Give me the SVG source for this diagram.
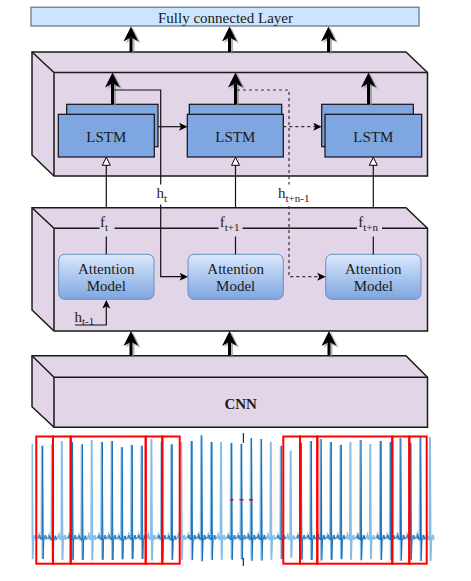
<svg xmlns="http://www.w3.org/2000/svg" xmlns:xlink="http://www.w3.org/1999/xlink" width="471" height="581" viewBox="0 0 471 581">
<style>
text{font-family:"Liberation Serif","Times New Roman",serif;fill:#1a1a1a}
.t15{font-size:15px}
.sub{font-size:11px}
.cube{fill:#e1d5e7;stroke:#1a1a1a;stroke-width:1.5;stroke-linejoin:miter}
.edge{fill:none;stroke:#1a1a1a;stroke-width:1.5}
.lstm{fill:#7ea6e0;stroke:#111;stroke-width:1.2}
.att{fill:url(#attGrad);stroke:#6c8ebf;stroke-width:1}
.thick{fill:none;stroke:#000;stroke-width:3}
.thin{fill:none;stroke:#111;stroke-width:1.2}
.dash{stroke:#333;stroke-dasharray:3 3}
.el{fill:none;stroke:#6aaee0;stroke-width:2;opacity:.8}
.ed{fill:none;stroke:#1a6fb5;stroke-width:1}
.win{fill:none;stroke:#ff0000;stroke-width:2}
</style>
<defs>
<linearGradient id="attGrad" x1="0" y1="0" x2="0" y2="1">
<stop offset="0" stop-color="#dae8fc"/>
<stop offset="1" stop-color="#7ea6e0"/>
</linearGradient>
<filter id="sh" x="-100%" y="-20%" width="300%" height="150%">
<feDropShadow dx="2" dy="1.5" stdDeviation="0.6" flood-color="#808080" flood-opacity="0.6"/>
</filter>
<marker id="mThick" markerUnits="userSpaceOnUse" viewBox="0 0 16 16" markerWidth="16" markerHeight="16" refX="4" refY="8" orient="auto">
<path d="M0,0.5 L15,8 L0,15.5 L4,8 Z" fill="#000"/>
</marker>
<marker id="mThin" markerUnits="userSpaceOnUse" viewBox="0 0 9 9" markerWidth="9" markerHeight="9" refX="2" refY="4.5" orient="auto">
<path d="M0,0.5 L8.5,4.5 L0,8.5 L2,4.5 Z" fill="#000"/>
</marker>
<marker id="mOpen" markerUnits="userSpaceOnUse" viewBox="-1 -1 10 10" markerWidth="10" markerHeight="10" refX="0" refY="4" orient="auto">
<path d="M0,0 L8,4 L0,8 Z" fill="#fff" stroke="#000" stroke-width="1"/>
</marker>
<path id="bp" d="M-5,0 L-3.6,-0.8 L-2.9,-3 L-2.1,0.6 L-1,0 L-0.4,2 L0,-97 L0.6,22 L1.2,1.5 L2.2,0 L3,-2.8 L3.8,0.8 L5,0"/>
<g id="bA"><use href="#bp" class="el"/><use href="#bp" class="ed" x="0.7"/></g>
<g id="bL"><use href="#bp" class="el"/></g>
<clipPath id="ecgClip"><rect x="31.5" y="428" width="403" height="142"/></clipPath>
</defs>

<g id="fc">
<rect x="31" y="7.3" width="388" height="18.7" fill="#cce5ff" stroke="#7b8896" stroke-width="1.5"/>
<text class="t15" x="225.5" y="22.5" text-anchor="middle">Fully connected Layer</text>
</g>

<g id="lstm-block">
<path class="cube" d="M32,52 L406,52 L427.5,72.5 L427.5,176 L54,176 L32,155 Z"/>
<path class="edge" d="M32,52 L54,72.5 L427.5,72.5 M54,72.5 L54,176"/>
</g>

<g id="attention-block">
<path class="cube" d="M32,207.7 L406,207.7 L427.5,228.3 L427.5,331 L54,331 L32,310 Z"/>
<path class="edge" d="M32,207.7 L54,228.3 L427.5,228.3 M54,228.3 L54,331"/>
</g>

<g id="cnn">
<path class="cube" d="M32,355.7 L406,355.7 L427.5,377.3 L427.5,427.3 L54,427.3 L32,406.7 Z"/>
<path class="edge" d="M32,355.7 L54,377.3 L427.5,377.3 M54,377.3 L54,427.3"/>
<text class="t15" x="240.7" y="409" text-anchor="middle" font-weight="bold">CNN</text>
</g>

<g id="lstm1">
<rect class="lstm" x="66.7" y="104.3" width="91.3" height="42.4"/>
<rect class="lstm" x="58.3" y="114.3" width="96" height="42.7"/>
<text class="t15" x="106.3" y="141.7" text-anchor="middle">LSTM</text>
</g>
<g id="lstm2">
<rect class="lstm" x="189.3" y="104.3" width="92.4" height="42.4"/>
<rect class="lstm" x="187.3" y="114.3" width="96" height="42.7"/>
<text class="t15" x="235.3" y="141.7" text-anchor="middle">LSTM</text>
</g>
<g id="lstm3">
<rect class="lstm" x="321.7" y="104.3" width="91.6" height="42.4"/>
<rect class="lstm" x="325" y="114.3" width="96.7" height="42.7"/>
<text class="t15" x="373.3" y="141.7" text-anchor="middle">LSTM</text>
</g>

<g id="att1">
<rect class="att" x="58.7" y="254.3" width="95.3" height="45" rx="6"/>
<text class="t15" x="106.3" y="274" text-anchor="middle">Attention</text>
<text class="t15" x="106.3" y="290.7" text-anchor="middle">Model</text>
</g>
<g id="att2">
<rect class="att" x="188" y="254.3" width="95.3" height="45" rx="6"/>
<text class="t15" x="235.7" y="274" text-anchor="middle">Attention</text>
<text class="t15" x="235.7" y="290.7" text-anchor="middle">Model</text>
</g>
<g id="att3">
<rect class="att" x="325.7" y="254.3" width="95.3" height="45" rx="6"/>
<text class="t15" x="373.3" y="274" text-anchor="middle">Attention</text>
<text class="t15" x="373.3" y="290.7" text-anchor="middle">Model</text>
</g>

<g id="connectors">
<g filter="url(#sh)">
<path class="thick" d="M131,52 V37.5" marker-end="url(#mThick)"/>
<path class="thick" d="M229.5,52 V37.5" marker-end="url(#mThick)"/>
<path class="thick" d="M328.5,52 V37.5" marker-end="url(#mThick)"/>
<path class="thick" d="M112.5,104.3 V83.5" marker-end="url(#mThick)"/>
<path class="thick" d="M235.5,104.3 V83.5" marker-end="url(#mThick)"/>
<path class="thick" d="M368.5,104.3 V83.5" marker-end="url(#mThick)"/>
<path class="thick" d="M131,355.7 V342" marker-end="url(#mThick)"/>
<path class="thick" d="M229.5,355.7 V342" marker-end="url(#mThick)"/>
<path class="thick" d="M329,355.7 V342" marker-end="url(#mThick)"/>
</g>
<path class="thin" d="M114,90 H160.7 V276.7 H181.5" marker-end="url(#mThin)"/>
<path class="thin" d="M158.3,126.7 H181" marker-end="url(#mThin)"/>
<path class="thin dash" d="M283.3,126.7 H315.2" marker-end="url(#mThin)"/>
<path class="thin dash" d="M237,90 H289 V276.7 H319.2" marker-end="url(#mThin)"/>
<path class="thin" d="M75,325 H106.3 V306.5" marker-end="url(#mThin)"/>
<path class="thin" d="M106.3,254.3 V236.5"/>
<path class="thin" d="M106.3,207.7 V165.3" marker-end="url(#mOpen)"/>
<path class="thin" d="M235.5,254.3 V236.5"/>
<path class="thin" d="M235.5,207.7 V165.3" marker-end="url(#mOpen)"/>
<path class="thin" d="M373.3,254.3 V236.5"/>
<path class="thin" d="M373.3,207.7 V165.3" marker-end="url(#mOpen)"/>
</g>

<g id="labels">
<rect x="99.5" y="214" width="15" height="18" fill="#e1d5e7"/>
<text class="t15" x="100" y="227">f<tspan class="sub" dy="3.5">t</tspan></text>
<rect x="218.5" y="214" width="24" height="18" fill="#e1d5e7"/>
<text class="t15" x="219.7" y="227">f<tspan class="sub" dy="3.5">t+1</tspan></text>
<rect x="357" y="214" width="25" height="18" fill="#e1d5e7"/>
<text class="t15" x="358.3" y="227">f<tspan class="sub" dy="3.5">t+n</tspan></text>
<rect x="155" y="184.5" width="15" height="20" fill="#fff"/>
<text class="t15" x="156.5" y="198">h<tspan class="sub" dy="3.5">t</tspan></text>
<rect x="277" y="184.5" width="35" height="20" fill="#fff"/>
<text class="t15" x="278" y="198">h<tspan class="sub" dy="3.5">t+n-1</tspan></text>
<text class="t15" x="74.5" y="321.5">h<tspan class="sub" dy="3.5">t-1</tspan></text>
</g>

<g id="ecg">
<g clip-path="url(#ecgClip)">
<use href="#bL" transform="translate(32,538) scale(1,0.97)"/>
<use href="#bA" transform="translate(41.95,538) scale(1,0.95)"/>
<use href="#bA" transform="translate(51.9,538.5) scale(1,0.98)"/>
<use href="#bL" transform="translate(61.85,538) scale(1,1.0)"/>
<use href="#bA" transform="translate(71.8,538) scale(1,0.99)"/>
<use href="#bA" transform="translate(81.75,538.5) scale(1,0.97)"/>
<use href="#bL" transform="translate(91.7,538) scale(1,1.01)"/>
<use href="#bA" transform="translate(101.65,538) scale(1,0.99)"/>
<use href="#bA" transform="translate(111.6,538) scale(1,1.0)"/>
<use href="#bA" transform="translate(121.55,538.5) scale(1,0.94)"/>
<use href="#bA" transform="translate(131.5,538) scale(1,0.96)"/>
<use href="#bA" transform="translate(141.45,538) scale(1,0.95)"/>
<use href="#bL" transform="translate(151.4,538) scale(1,1.02)"/>
<use href="#bA" transform="translate(161.35,538) scale(1,0.99)"/>
<use href="#bA" transform="translate(171.3,538.5) scale(1,0.97)"/>
<use href="#bL" transform="translate(181.25,538) scale(1,0.99)"/>
<use href="#bA" transform="translate(191.2,538) scale(1,1.0)"/>
<use href="#bA" transform="translate(201.15,538) scale(1,1.06)"/>
<use href="#bA" transform="translate(211.1,538) scale(1,0.99)"/>
<use href="#bL" transform="translate(221.05,538) scale(1,0.99)"/>
<use href="#bA" transform="translate(231,538) scale(1,0.98)"/>
<use href="#bA" transform="translate(240.95,538) scale(1,0.97)"/>
<use href="#bA" transform="translate(250.9,538) scale(1,1.03)"/>
<use href="#bA" transform="translate(260.85,538) scale(1,1.02)"/>
<use href="#bL" transform="translate(270.8,538) scale(1,0.99)"/>
<use href="#bA" transform="translate(280.75,538) scale(1,0.95)"/>
<use href="#bL" transform="translate(290.7,538) scale(1,0.9)"/>
<use href="#bA" transform="translate(300.65,538) scale(1,0.98)"/>
<use href="#bA" transform="translate(310.6,538) scale(1,1.0)"/>
<use href="#bA" transform="translate(320.55,538) scale(1,1.02)"/>
<use href="#bA" transform="translate(330.5,538) scale(1,0.99)"/>
<use href="#bA" transform="translate(340.45,538) scale(1,0.96)"/>
<use href="#bL" transform="translate(350.4,538) scale(1,0.99)"/>
<use href="#bA" transform="translate(360.35,538) scale(1,1.01)"/>
<use href="#bL" transform="translate(370.3,538) scale(1,0.97)"/>
<use href="#bA" transform="translate(380.25,538) scale(1,1.0)"/>
<use href="#bA" transform="translate(390.2,538) scale(1,0.99)"/>
<use href="#bA" transform="translate(400.15,538) scale(1,1.03)"/>
<use href="#bA" transform="translate(410.1,538) scale(1,0.98)"/>
<use href="#bA" transform="translate(420.05,538) scale(1,1.05)"/>
<use href="#bL" transform="translate(430,538) scale(1,1.04)"/>
</g>
<path d="M243.3,433 V443 M243.3,558 V566" stroke="#000" stroke-width="1"/>
<path d="M230,499.7 H233.5 M239.5,499.7 H243.5 M249,499.7 H253" stroke="#ff0000" stroke-width="1.6"/>
<rect class="win" x="36.3" y="436.5" width="16.7" height="127.2"/>
<rect class="win" x="53" y="436.5" width="17.7" height="127.2"/>
<rect class="win" x="70.7" y="436.5" width="75" height="127.2"/>
<rect class="win" x="145.7" y="436.5" width="16.6" height="127.2"/>
<rect class="win" x="162.3" y="436.5" width="17.4" height="127.2"/>
<rect class="win" x="283.3" y="436.5" width="16.7" height="127.2"/>
<rect class="win" x="300" y="436.5" width="17.3" height="127.2"/>
<rect class="win" x="317.3" y="436.5" width="75" height="127.2"/>
<rect class="win" x="392.3" y="436.5" width="17" height="127.2"/>
<rect class="win" x="409.3" y="436.5" width="17.4" height="127.2"/>
</g>
</svg>
